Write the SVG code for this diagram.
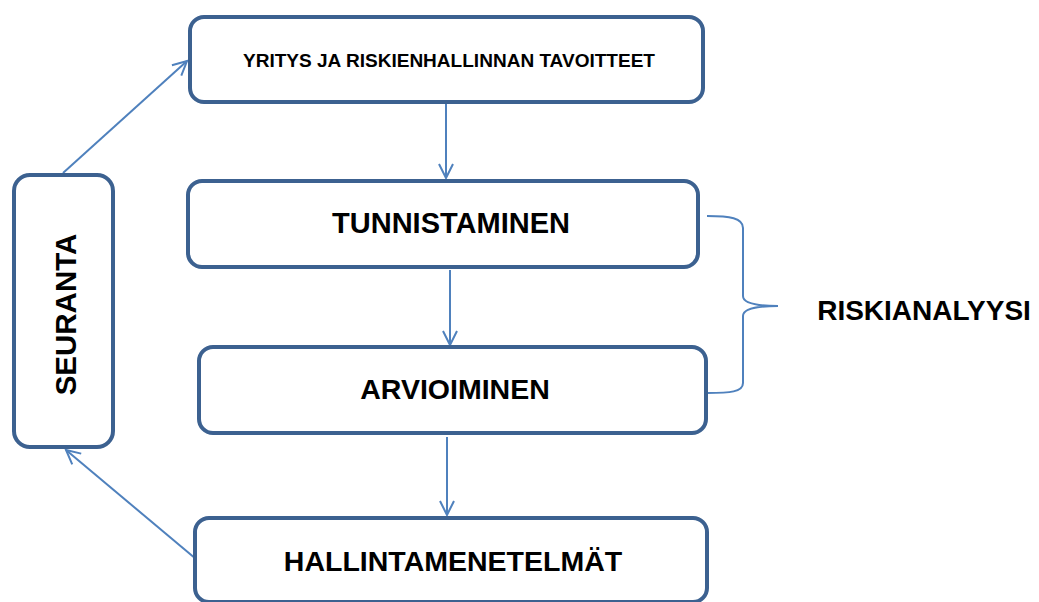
<svg xmlns="http://www.w3.org/2000/svg" width="1039" height="602" viewBox="0 0 1039 602">
  <defs>
    <style>
      .box { fill: #ffffff; stroke: #3c6190; stroke-width: 4; }
      .lbl { font-family: "Liberation Sans", Arial, sans-serif; font-weight: bold; fill: #000000; text-anchor: middle; }
      .con { stroke: #4f81bd; stroke-width: 2; fill: none; }
    </style>
    <marker id="arr" markerWidth="20" markerHeight="20" refX="15" refY="8" orient="auto" markerUnits="userSpaceOnUse">
      <path d="M1,1 L15,8 L1,15" fill="none" stroke="#4f81bd" stroke-width="2"/>
    </marker>
  </defs>
  <rect width="1039" height="602" fill="#ffffff"/>

  <g id="connectors">
    <line class="con" x1="63" y1="173" x2="187" y2="61" marker-end="url(#arr)"/>
    <line class="con" x1="446" y1="104" x2="446" y2="178" marker-end="url(#arr)"/>
    <line class="con" x1="450" y1="270" x2="450" y2="345" marker-end="url(#arr)"/>
    <line class="con" x1="447" y1="437" x2="447" y2="515" marker-end="url(#arr)"/>
    <line class="con" x1="196" y1="559" x2="66" y2="450" marker-end="url(#arr)"/>
    <path class="con" d="M707,216 C730,216 743,218 743,228 L743,296 C743,304 760,306 778,306 C760,306 743,308 743,316 L743,383 C743,392 730,393 707,393"/>
  </g>

  <g id="node-tavoitteet">
    <rect class="box" x="190" y="17" width="513" height="85" rx="14"/>
    <text class="lbl" x="449" y="67" font-size="17.5" textLength="412" lengthAdjust="spacingAndGlyphs">YRITYS JA RISKIENHALLINNAN TAVOITTEET</text>
  </g>

  <g id="node-tunnistaminen">
    <rect class="box" x="188" y="181" width="510" height="86" rx="14"/>
    <text class="lbl" x="451" y="233" font-size="29">TUNNISTAMINEN</text>
  </g>

  <g id="node-arvioiminen">
    <rect class="box" x="199" y="347" width="507" height="86" rx="14"/>
    <text class="lbl" x="455" y="399" font-size="28.5">ARVIOIMINEN</text>
  </g>

  <g id="node-hallintamenetelmat">
    <rect class="box" x="195" y="518" width="512" height="84" rx="14"/>
    <text class="lbl" x="453" y="571" font-size="28.5">HALLINTAMENETELMÄT</text>
  </g>

  <g id="node-seuranta">
    <rect class="box" x="14" y="175" width="99" height="272" rx="16"/>
    <text class="lbl" x="0" y="0" font-size="29.5" transform="translate(76 314.5) rotate(-90)">SEURANTA</text>
  </g>

  <g id="label-riskianalyysi">
    <text class="lbl" x="924" y="320" font-size="28">RISKIANALYYSI</text>
  </g>
</svg>
